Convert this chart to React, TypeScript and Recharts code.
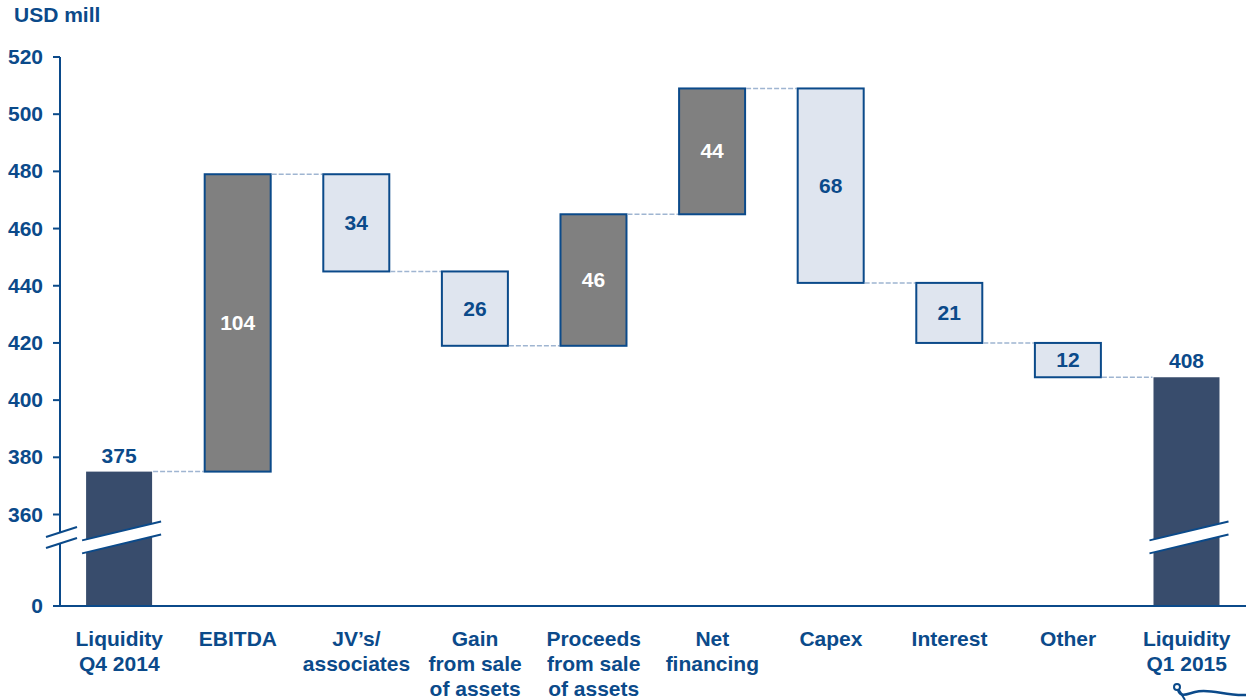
import React from "react";
import { BarChart, Bar, XAxis, YAxis, Cell, LabelList } from "recharts";

const categories = [
  "Liquidity Q4 2014",
  "EBITDA",
  "JV's/associates",
  "Gain from sale of assets",
  "Proceeds from sale of assets",
  "Net financing",
  "Capex",
  "Interest",
  "Other",
  "Liquidity Q1 2015",
];
const categoryLines = [
  ["Liquidity", "Q4 2014"],
  ["EBITDA"],
  ["JV’s/", "associates"],
  ["Gain", "from sale", "of assets"],
  ["Proceeds", "from sale", "of assets"],
  ["Net", "financing"],
  ["Capex"],
  ["Interest"],
  ["Other"],
  ["Liquidity", "Q1 2015"],
];
const openingLiquidity = 375;
const movements = [104, -34, -26, 46, 44, -68, -21, -12];
const closingLiquidity = 408;
const yTicks = [360, 380, 400, 420, 440, 460, 480, 500, 520];

// axis is broken between 0 and 360: "0" sits at this display value
const AXIS_FLOOR = 328;

const BLUE = "#0B4A8A";
const DARK = "#384C6C";
const GRAY = "#808080";
const LIGHT = "#DFE5EF";
const DASH = "#9FB5D1";
const FONT = "'Liberation Sans', Arial, sans-serif";
const FS = 21;

const PLOT_LEFT = 60;
const PLOT_WIDTH = 1186;
const BAND = PLOT_WIDTH / categories.length;
const BREAK_ABOVE_BOTTOM = 68;

type Kind = "total" | "up" | "down";
interface Row {
  name: string;
  range: [number, number];
  kind: Kind;
  label: number;
}

const rows: Row[] = [];
{
  let running = openingLiquidity;
  rows.push({ name: categories[0], range: [AXIS_FLOOR, running], kind: "total", label: running });
  movements.forEach((d, i) => {
    const next = running + d;
    rows.push({
      name: categories[i + 1],
      range: [Math.min(running, next), Math.max(running, next)],
      kind: d > 0 ? "up" : "down",
      label: Math.abs(d),
    });
    running = next;
  });
  rows.push({
    name: categories[categories.length - 1],
    range: [AXIS_FLOOR, closingLiquidity],
    kind: "total",
    label: closingLiquidity,
  });
}

const fillFor = (k: Kind) => (k === "total" ? DARK : k === "up" ? GRAY : LIGHT);

const WaterfallShape = (props: any) => {
  const { x, y, width, height, index, payload } = props;
  const kind: Kind = payload.kind;
  const isLast = index === rows.length - 1;
  const levelY = kind === "down" ? y + height : y;
  const bottom = y + height;
  const cx = x + width / 2;
  const mid = bottom - BREAK_ABOVE_BOTTOM;
  const slope = 0.24;
  const x0 = x - 4;
  const x1 = x + width + 9;
  const ly = (px: number, off: number) => mid - slope * (px - cx) + off;
  return (
    <g>
      {kind === "total" ? (
        <rect x={x} y={y} width={width} height={height} fill={DARK} />
      ) : (
        <rect
          x={x}
          y={y}
          width={width}
          height={height}
          fill={fillFor(kind)}
          stroke={BLUE}
          strokeWidth={2}
        />
      )}
      {kind === "total" && (
        <g>
          <polygon
            points={`${x0},${ly(x0, -6.5)} ${x1},${ly(x1, -6.5)} ${x1},${ly(x1, 6.5)} ${x0},${ly(x0, 6.5)}`}
            fill="#fff"
          />
          <line x1={x0} y1={ly(x0, -6.5)} x2={x1} y2={ly(x1, -6.5)} stroke={BLUE} strokeWidth={2} />
          <line x1={x0} y1={ly(x0, 6.5)} x2={x1} y2={ly(x1, 6.5)} stroke={BLUE} strokeWidth={2} />
        </g>
      )}
      {!isLast && (
        <line
          x1={x + width + 1}
          y1={levelY}
          x2={x + BAND - 1}
          y2={levelY}
          stroke={DASH}
          strokeWidth={1.5}
          strokeDasharray="5 2"
        />
      )}
    </g>
  );
};

const ValueLabel = (props: any) => {
  const { x, y, width, height, index, value } = props;
  const row = rows[index];
  const cx = x + width / 2;
  if (row.kind === "total") {
    return (
      <text x={cx} y={y - 9} textAnchor="middle" fill={BLUE} fontFamily={FONT} fontWeight="bold" fontSize={FS}>
        {value}
      </text>
    );
  }
  return (
    <text
      x={cx}
      y={y + height / 2}
      dy={7}
      textAnchor="middle"
      fill={row.kind === "up" ? "#fff" : BLUE}
      fontFamily={FONT}
      fontWeight="bold"
      fontSize={FS}
    >
      {value}
    </text>
  );
};

const YTick = (props: any) => {
  const { x, y, payload } = props;
  const isFloor = payload.value === AXIS_FLOOR;
  const mid = y - BREAK_ABOVE_BOTTOM;
  const slope = 0.32;
  const ax = PLOT_LEFT;
  const ly = (px: number, off: number) => mid - slope * (px - ax) + off;
  return (
    <g>
      <text x={x} y={y} dy={7} textAnchor="end" fill={BLUE} fontFamily={FONT} fontWeight="bold" fontSize={FS}>
        {isFloor ? "0" : payload.value}
      </text>
      {isFloor && (
        <g>
          <polygon
            points={`${ax - 14},${ly(ax - 14, -5.5)} ${ax + 17},${ly(ax + 17, -5.5)} ${ax + 17},${ly(ax + 17, 5.5)} ${ax - 14},${ly(ax - 14, 5.5)}`}
            fill="#fff"
          />
          <line x1={ax - 14} y1={ly(ax - 14, -5.5)} x2={ax + 17} y2={ly(ax + 17, -5.5)} stroke={BLUE} strokeWidth={2} />
          <line x1={ax - 14} y1={ly(ax - 14, 5.5)} x2={ax + 17} y2={ly(ax + 17, 5.5)} stroke={BLUE} strokeWidth={2} />
        </g>
      )}
    </g>
  );
};

const XTick = (props: any) => {
  const { x, y, index } = props;
  const lines = categoryLines[index] ?? [];
  return (
    <text x={x} y={y} textAnchor="middle" fill={BLUE} fontFamily={FONT} fontWeight="bold" fontSize={FS}>
      {lines.map((l, i) => (
        <tspan key={i} x={x} dy={i === 0 ? 32 : 25}>
          {l}
        </tspan>
      ))}
    </text>
  );
};

export default function App() {
  return (
    <div style={{ position: "absolute", left: 0, top: 0, width: 1246, height: 700, background: "#fff", overflow: "hidden" }}>
      <div
        style={{
          position: "absolute",
          left: 14,
          top: 3,
          color: BLUE,
          fontFamily: FONT,
          fontWeight: "bold",
          fontSize: FS,
        }}
      >
        USD mill
      </div>
      <BarChart
        width={1246}
        height={700}
        data={rows}
        margin={{ top: 57, right: 0, bottom: 0, left: 0 }}
        barCategoryGap="22%"
      >
        <XAxis
          dataKey="name"
          interval={0}
          height={94}
          tick={<XTick />}
          tickLine={false}
          axisLine={{ stroke: BLUE, strokeWidth: 2 }}
        />
        <YAxis
          width={PLOT_LEFT}
          domain={[AXIS_FLOOR, 520]}
          ticks={[AXIS_FLOOR, ...yTicks]}
          interval={0}
          tick={<YTick />}
          tickSize={7}
          tickMargin={10}
          tickLine={{ stroke: BLUE, strokeWidth: 2 }}
          axisLine={{ stroke: BLUE, strokeWidth: 2 }}
        />
        <Bar dataKey="range" shape={<WaterfallShape />} isAnimationActive={false}>
          {rows.map((r, i) => (
            <Cell key={i} fill={fillFor(r.kind)} />
          ))}
          <LabelList dataKey="label" content={<ValueLabel />} />
        </Bar>
      </BarChart>
      {/* small logo mark peeking in at the bottom right */}
      <svg style={{ position: "absolute", left: 1165, top: 678 }} width={81} height={22}>
        <circle cx={12} cy={9} r={3} fill="none" stroke={BLUE} strokeWidth={2} />
        <path d="M13,12 C16,20 22,16 30,14 C45,10 60,18 81,17" fill="none" stroke={BLUE} strokeWidth={2.5} />
        <path d="M14,12 L20,22" fill="none" stroke={BLUE} strokeWidth={2} />
      </svg>
    </div>
  );
}
